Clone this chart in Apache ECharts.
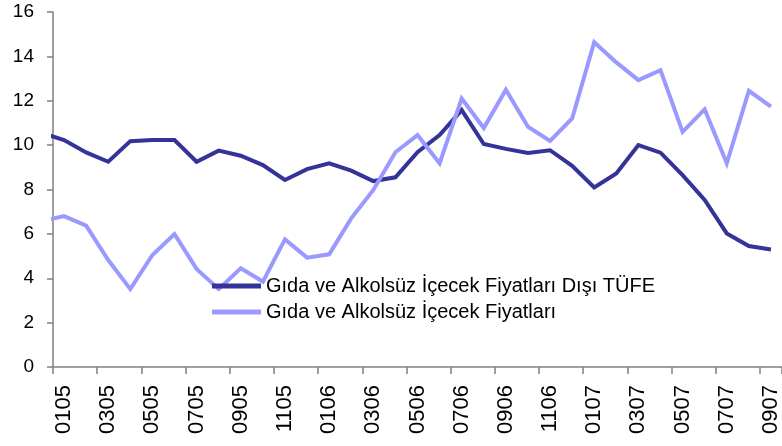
<!DOCTYPE html>
<html>
<head>
<meta charset="utf-8">
<script src="https://cdn.jsdelivr.net/npm/echarts@6/dist/echarts.min.js"></script>
<style>
html, body { margin: 0; padding: 0; background: #fff; }
#chart { width: 782px; height: 446px; }
</style>
</head>
<body>
<div id="chart"></div>
<script>
// Categories (MMYY); the first one lies just left of the visible axis range
const categories = ['1204',
  '0105','0205','0305','0405','0505','0605','0705','0805','0905','1005','1105','1205',
  '0106','0206','0306','0406','0506','0606','0706','0806','0906','1006','1106','1206',
  '0107','0207','0307','0407','0507','0607','0707','0807','0907'];

const seriesNames = ['Gıda ve Alkolsüz İçecek Fiyatları Dışı TÜFE', 'Gıda ve Alkolsüz İçecek Fiyatları'];

const coreCPI = [10.55,
  10.23, 9.67, 9.25, 10.18, 10.23, 10.23, 9.25, 9.75, 9.52, 9.10, 8.43, 8.92,
  9.18, 8.85, 8.38, 8.55, 9.68, 10.45, 11.58, 10.05, 9.83, 9.65, 9.77, 9.07,
  8.09, 8.72, 10.00, 9.66, 8.65, 7.53, 6.02, 5.45, 5.30];

const foodPrices = [6.58,
  6.80, 6.37, 4.82, 3.51, 5.05, 5.99, 4.42, 3.51, 4.45, 3.85, 5.75, 4.93,
  5.08, 6.70, 7.98, 9.68, 10.45, 9.18, 12.10, 10.77, 12.50, 10.83, 10.19, 11.20,
  14.64, 13.73, 12.93, 13.38, 10.60, 11.61, 9.18, 12.45, 11.73];

const yTicks = { min: 0, max: 16, interval: 2 };

const chart = echarts.init(document.getElementById('chart'), null, { renderer: 'canvas' });
const font = 'Liberation Sans, Arial, sans-serif';
chart.setOption({
  animation: false,
  backgroundColor: '#ffffff',
  grid: { left: 53, right: 0, top: 12, bottom: 79, containLabel: false },
  legend: {
    orient: 'vertical',
    left: 212,
    top: 275,
    padding: 0,
    itemWidth: 49,
    itemHeight: 5,
    itemGap: 4,
    icon: 'rect',
    textStyle: { fontFamily: font, fontSize: 20, color: '#000', lineHeight: 22 },
    data: seriesNames
  },
  xAxis: {
    type: 'category',
    data: categories,
    min: 1,
    boundaryGap: true,
    axisLine: { lineStyle: { color: '#808080', width: 1.5 } },
    axisTick: {
      show: true, length: 7, inside: false,
      interval: function (idx) { return idx % 2 === 1; },
      lineStyle: { color: '#808080', width: 1.5 }
    },
    axisLabel: {
      interval: function (idx) { return idx % 2 === 1; },
      rotate: 90,
      margin: 18,
      fontFamily: font,
      fontSize: 22,
      color: '#000'
    },
    splitLine: { show: false }
  },
  yAxis: {
    type: 'value',
    min: yTicks.min,
    max: yTicks.max,
    interval: yTicks.interval,
    axisLine: { show: true, lineStyle: { color: '#808080', width: 1.5 } },
    axisTick: { show: true, length: 6, inside: false, lineStyle: { color: '#808080', width: 1.5 } },
    axisLabel: { margin: 19, fontFamily: font, fontSize: 19, color: '#000' },
    splitLine: { show: false }
  },
  series: [
    {
      name: seriesNames[0],
      type: 'line',
      data: coreCPI,
      showSymbol: false,
      symbol: 'none',
      clip: true,
      itemStyle: { color: '#333399' },
      lineStyle: { color: '#333399', width: 4, join: 'miter' }
    },
    {
      name: seriesNames[1],
      type: 'line',
      data: foodPrices,
      showSymbol: false,
      symbol: 'none',
      clip: true,
      itemStyle: { color: '#9999FF' },
      lineStyle: { color: '#9999FF', width: 4, join: 'miter' }
    }
  ]
});
</script>
</body>
</html>
